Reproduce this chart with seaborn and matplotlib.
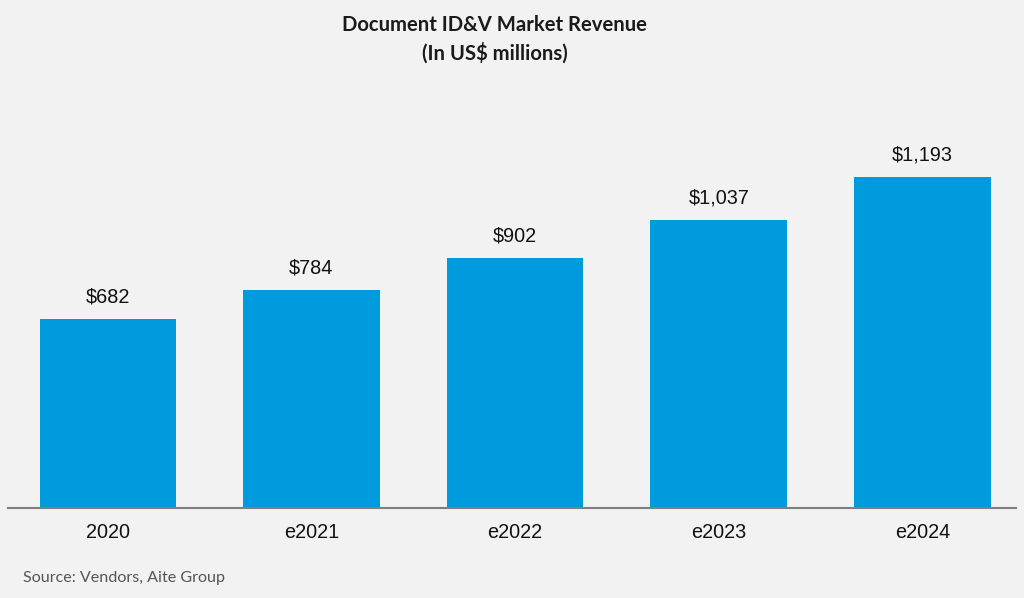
import matplotlib
matplotlib.use("Agg")
import matplotlib.pyplot as plt
import seaborn as sns
import pandas as pd

# data
years = ["2020", "e2021", "e2022", "e2023", "e2024"]
revenue = [682, 784, 902, 1037, 1193]

bg = "#f2f2f2"
bar_color = "#009bdc"

sns.set_style("white")
plt.rcParams["font.family"] = ["Liberation Sans", "DejaVu Sans"]

df = pd.DataFrame({"year": years, "revenue": revenue})

fig = plt.figure(figsize=(10.24, 5.98), dpi=100, facecolor=bg)
ax = fig.add_axes([8 / 1024, 90 / 598, 1008 / 1024, 0.68])
ax.set_facecolor(bg)

sns.barplot(data=df, x="year", y="revenue", color=bar_color, saturation=1,
            width=0.67, linewidth=0, ax=ax)

for i, v in enumerate(revenue):
    ax.text(i, v + 45, f"${v:,}", ha="center", va="bottom",
            fontsize=14.3, color="#111111")

ax.set_xlim(-0.49, 4.46)
ax.set_ylim(0, 1465)
ax.set_xlabel("")
ax.set_ylabel("")
ax.set_yticks([])
for side in ["left", "right", "top"]:
    ax.spines[side].set_visible(False)
ax.spines["bottom"].set_color("#7f7f7f")
ax.spines["bottom"].set_linewidth(1.5)
ax.tick_params(axis="x", length=0, pad=11, labelsize=14.3, labelcolor="#111111")

fig.text(0.483, 0.975, "Document ID&V Market Revenue\n(In US$ millions)",
         ha="center", va="top", fontsize=14.6, fontweight="bold",
         family=["Lato", "DejaVu Sans"], color="#1a1a1a", linespacing=1.45)
fig.text(0.022, 0.033, "Source: Vendors, Aite Group", ha="left", va="center",
         fontsize=11.6, family=["Lato", "DejaVu Sans"], color="#555555")

fig.savefig("out.png", dpi=100, facecolor=bg)
